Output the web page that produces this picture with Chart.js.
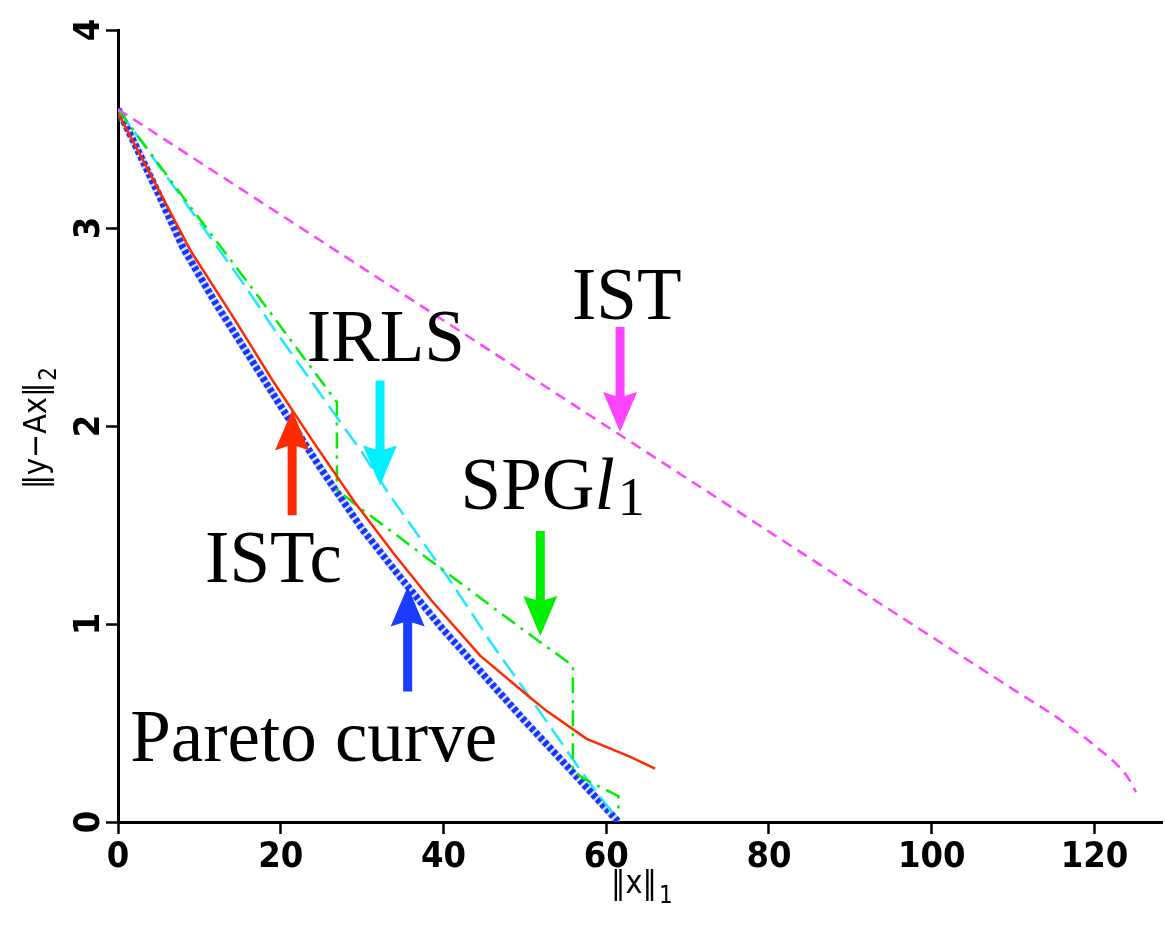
<!DOCTYPE html>
<html>
<head>
<meta charset="utf-8">
<script src="https://cdn.jsdelivr.net/npm/chart.js@4.4.0/dist/chart.umd.min.js"></script>
<style>
  html, body { margin: 0; padding: 0; background: #fff; }
  #wrap { width: 1165px; height: 927px; }
</style>
</head>
<body>
<div id="wrap"><canvas id="chart" width="1165" height="927"></canvas></div>
<script>
// values
const paretoX = [0, 2, 5, 8, 12, 16, 20, 25, 30, 35, 40, 45, 50, 55, 61.5];
const paretoY = [3.60, 3.43, 3.17, 2.90, 2.62, 2.36, 2.10, 1.78, 1.48, 1.22, 0.97, 0.74, 0.51, 0.29, 0.0];

const istcX = [0, 4, 9, 14, 19, 24, 29, 34, 38.5, 44.5, 50.6, 52.7, 57.6, 62.9, 66];
const istcY = [3.58, 3.27, 2.88, 2.56, 2.23, 1.92, 1.62, 1.35, 1.12, 0.84, 0.63, 0.56, 0.42, 0.33, 0.27];

const irlsX = [0, 7.2, 15.4, 19, 30.1, 33.4, 40.8, 46.1, 50.6, 57.2, 60.5, 61];
const irlsY = [3.60, 3.19, 2.72, 2.50, 1.86, 1.65, 1.22, 0.89, 0.63, 0.24, 0.06, 0.03];

const spgX = [0, 7.2, 17.5, 26.9, 26.9, 29.3, 49.8, 55.9, 55.9, 57.2, 59.6, 61.5, 61.5];
const spgY = [3.60, 3.20, 2.64, 2.12, 1.68, 1.60, 0.97, 0.79, 0.26, 0.22, 0.17, 0.13, 0.06];

const istX = [0, 30, 60, 90, 110, 115, 119, 122, 123.5, 124.5, 125.1];
const istY = [3.60, 2.80, 2.00, 1.20, 0.67, 0.54, 0.42, 0.32, 0.26, 0.20, 0.15];

const xTicks = [0, 20, 40, 60, 80, 100, 120];
const yTicks = [0, 1, 2, 3, 4];

// labels and arrows (data coords of text baseline-left and arrow tip)
const labelText = ['IST', 'IRLS', 'SPG', 'ISTc', 'Pareto curve'];
const labelX = [55.8, 23.2, 42.1, 10.7, 1.5];
const labelY = [2.54, 2.33, 1.58, 1.21, 0.31];
const arrowX = [61.7, 32.2, 51.9, 21.4, 35.6];
const arrowY = [1.97, 1.70, 0.94, 2.08, 1.19];
const arrowDir = [1, 1, 1, -1, -1]; // 1 = points down
const arrowColor = ['#ff44ff', '#00f0ff', '#00ee00', '#ff2a00', '#1a3cff'];

function pts(xs, ys) {
  return xs.map((x, i) => ({ x: x, y: ys[i] }));
}

const tickFont = "'Liberation Sans Narrow', 'DejaVu Sans Condensed', 'Liberation Sans', sans-serif";

function drawArrow(ctx, x, tipY, dir, color) {
  const len = 105, headLen = 36, headW = 17, shaft = 4.5;
  const tail = tipY - dir * len;
  const base = tipY - dir * headLen;
  ctx.fillStyle = color;
  ctx.beginPath();
  ctx.moveTo(x - shaft, tail);
  ctx.lineTo(x + shaft, tail);
  ctx.lineTo(x + shaft, base);
  ctx.lineTo(x + headW, base - dir * 4);
  ctx.lineTo(x, tipY);
  ctx.lineTo(x - headW, base - dir * 4);
  ctx.lineTo(x - shaft, base);
  ctx.closePath();
  ctx.fill();
}

const annot = {
  id: 'annot',
  afterDraw(chart) {
    const ctx = chart.ctx;
    const xs = chart.scales.x, ys = chart.scales.y;
    ctx.save();

    // rotated y tick labels
    ctx.fillStyle = '#000';
    ctx.font = 'bold 36px ' + tickFont;
    ctx.textAlign = 'center';
    ctx.textBaseline = 'middle';
    yTicks.forEach(v => {
      ctx.save();
      ctx.translate(90, ys.getPixelForValue(v));
      ctx.rotate(-Math.PI / 2);
      ctx.fillText(String(v), 0, 0);
      ctx.restore();
    });

    // axis titles
    ctx.textBaseline = 'alphabetic';
    ctx.textAlign = 'left';
    ctx.font = '32px ' + tickFont;
    const xt = '\u2016x\u2016';
    const xw = ctx.measureText(xt).width;
    const xc = 642;
    ctx.fillText(xt, xc - xw / 2 - 8, 893);
    ctx.font = '24px ' + tickFont;
    ctx.fillText('1', xc + xw / 2 - 6, 903);

    ctx.save();
    ctx.translate(46, 428);
    ctx.rotate(-Math.PI / 2);
    ctx.font = '32px ' + tickFont;
    const yt = '\u2016y\u2212Ax\u2016';
    const yw = ctx.measureText(yt).width;
    ctx.fillText(yt, -yw / 2 - 8, 0);
    ctx.font = '24px ' + tickFont;
    ctx.fillText('2', yw / 2 - 6, 10);
    ctx.restore();

    // arrows
    arrowX.forEach((v, i) => {
      drawArrow(ctx, xs.getPixelForValue(v), ys.getPixelForValue(arrowY[i]), arrowDir[i], arrowColor[i]);
    });

    // text labels
    ctx.fillStyle = '#000';
    labelText.forEach((t, i) => {
      const px = xs.getPixelForValue(labelX[i]);
      const py = ys.getPixelForValue(labelY[i]);
      ctx.font = '73px "Liberation Serif", "DejaVu Serif", serif';
      ctx.fillText(t, px, py);
      if (t === 'SPG') {
        const w = ctx.measureText(t).width;
        ctx.font = 'italic 73px "Liberation Serif", "DejaVu Serif", serif';
        ctx.fillText('l', px + w, py);
        const wl = ctx.measureText('l').width;
        ctx.font = '54px "Liberation Serif", "DejaVu Serif", serif';
        ctx.fillText('1', px + w + wl + 3, py + 6);
      }
    });
    ctx.restore();
  }
};

const ctx = document.getElementById('chart').getContext('2d');

new Chart(ctx, {
  type: 'scatter',
  data: {
    datasets: [
      {
        label: 'IST',
        data: pts(istX, istY),
        showLine: true,
        borderColor: '#ff44ff',
        borderWidth: 2.5,
        borderDash: [11, 7],
        pointRadius: 0,
        order: 1
      },
      {
        label: 'ISTc',
        data: pts(istcX, istcY),
        showLine: true,
        borderColor: '#ff2a00',
        borderWidth: 2.5,
        pointRadius: 0,
        order: 2
      },
      {
        label: 'SPGl1',
        data: pts(spgX, spgY),
        showLine: true,
        borderColor: '#00ee00',
        borderWidth: 2.5,
        borderDash: [16, 7, 3, 7],
        pointRadius: 0,
        order: 3
      },
      {
        label: 'IRLS',
        data: pts(irlsX, irlsY),
        showLine: true,
        borderColor: '#1ee8ff',
        borderWidth: 2.5,
        borderDash: [20, 8],
        pointRadius: 0,
        order: 4
      },
      {
        label: 'Pareto curve',
        data: pts(paretoX, paretoY),
        showLine: true,
        borderColor: '#1633ff',
        borderWidth: 7,
        borderDash: [4, 2.5],
        pointRadius: 0,
        order: 5
      },
      {
        label: 'Pareto halo',
        data: pts(paretoX, paretoY),
        showLine: true,
        borderColor: 'rgba(170,190,255,0.5)',
        borderWidth: 8,
        pointRadius: 0,
        order: 6
      }
    ]
  },
  options: {
    responsive: false,
    animation: false,
    layout: { padding: { top: 30, right: 3, left: 0, bottom: 0 } },
    plugins: {
      legend: { display: false },
      tooltip: { enabled: false }
    },
    scales: {
      x: {
        type: 'linear',
        min: 0,
        max: 128.3,
        afterFit(scale) { scale.height = 105; },
        afterBuildTicks(scale) { scale.ticks = xTicks.map(v => ({ value: v })); },
        border: { display: true, color: '#000', width: 3 },
        grid: { drawOnChartArea: false, drawTicks: true, tickLength: 12, tickColor: '#000', tickWidth: 2.5 },
        ticks: {
          color: '#000',
          padding: 2,
          maxRotation: 0,
          font: { family: tickFont, size: 36, weight: 'bold' }
        }
      },
      y: {
        type: 'linear',
        min: 0,
        max: 4,
        afterFit(scale) { scale.width = 118; },
        afterBuildTicks(scale) { scale.ticks = yTicks.map(v => ({ value: v })); },
        border: { display: true, color: '#000', width: 3 },
        grid: { drawOnChartArea: false, drawTicks: true, tickLength: 12, tickColor: '#000', tickWidth: 2.5 },
        ticks: { display: false }
      }
    }
  },
  plugins: [annot]
});
</script>
</body>
</html>
